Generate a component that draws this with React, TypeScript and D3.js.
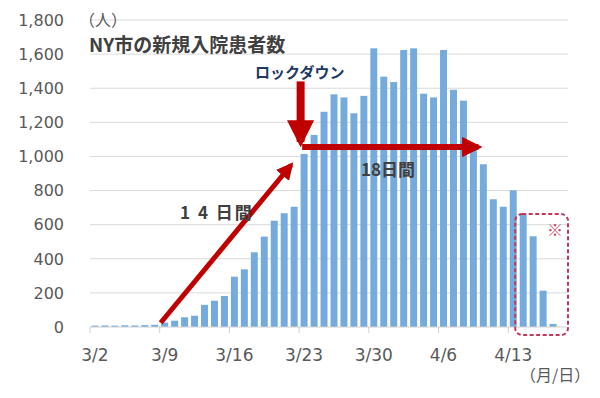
import React, { useEffect, useRef } from "react";
import * as d3 from "d3";

// 日付 (3/2 〜 4/18)
const days = [
  "3/2", "3/3", "3/4", "3/5", "3/6", "3/7", "3/8",
  "3/9", "3/10", "3/11", "3/12", "3/13", "3/14", "3/15",
  "3/16", "3/17", "3/18", "3/19", "3/20", "3/21", "3/22",
  "3/23", "3/24", "3/25", "3/26", "3/27", "3/28", "3/29",
  "3/30", "3/31", "4/1", "4/2", "4/3", "4/4", "4/5",
  "4/6", "4/7", "4/8", "4/9", "4/10", "4/11", "4/12",
  "4/13", "4/14", "4/15", "4/16", "4/17", "4/18",
];

// 新規入院患者数
const patients: (number | null)[] = [
  8, 9, 8, 10, 9, 11, 13,
  25, 37, 57, 66, 130, 154, 182,
  295, 338, 438, 530, 623, 667, 705,
  1015, 1126, 1262, 1364, 1346, 1253, 1355,
  1634, 1468, 1436, 1624, 1634, 1368, 1346,
  1624, 1391, 1327, 1065, 954, 749, 705,
  801, 657, 532, 213, 18, null,
];

const xTickLabels = ["3/2", "3/9", "3/16", "3/23", "3/30", "4/6", "4/13"];
const yTicks = [0, 200, 400, 600, 800, 1000, 1200, 1400, 1600, 1800];

const FONT = "'Noto Sans CJK JP', 'Noto Sans', sans-serif";
const NUM_FONT = "'DejaVu Sans', sans-serif";
const RED = "#c00000";

const App = () => {
  const svgRef = useRef<SVGSVGElement | null>(null);

  useEffect(() => {
    const width = 600;
    const height = 398;
    const margin = { top: 20, right: 32, bottom: 71, left: 90 };

    const svg = d3.select(svgRef.current);
    svg.selectAll("*").remove();

    const x = d3
      .scaleBand<string>()
      .domain(days)
      .range([margin.left, width - margin.right])
      .paddingInner(0.3)
      .paddingOuter(0.15);

    const y = d3
      .scaleLinear()
      .domain([0, 1800])
      .range([height - margin.bottom, margin.top]);

    const step = x.step();
    const slotLeft = (d: string) => (x(d) as number) - step * 0.15;

    // grid
    svg
      .append("g")
      .selectAll("line")
      .data(yTicks.filter((t) => t > 0))
      .join("line")
      .attr("x1", margin.left)
      .attr("x2", width - margin.right)
      .attr("y1", (d) => y(d))
      .attr("y2", (d) => y(d))
      .attr("stroke", "#d9d9d9")
      .attr("stroke-width", 1);

    // y labels
    svg
      .append("g")
      .selectAll("text")
      .data(yTicks)
      .join("text")
      .attr("x", 64)
      .attr("y", (d) => y(d))
      .attr("dy", "0.36em")
      .attr("text-anchor", "end")
      .attr("font-family", NUM_FONT)
      .attr("font-size", 16)
      .attr("fill", "#595959")
      .text((d) => d3.format(",")(d));

    // bars
    svg
      .append("g")
      .selectAll("rect")
      .data(days.map((d, i) => ({ d, v: patients[i] })).filter((e) => e.v != null))
      .join("rect")
      .attr("x", (e) => x(e.d) as number)
      .attr("width", x.bandwidth())
      .attr("y", (e) => y(e.v as number))
      .attr("height", (e) => y(0) - y(e.v as number))
      .attr("fill", "#74aadc");

    // x axis
    const axisY = y(0);
    svg
      .append("line")
      .attr("x1", margin.left)
      .attr("x2", width - margin.right)
      .attr("y1", axisY)
      .attr("y2", axisY)
      .attr("stroke", "#d0d0d0");

    const ticks = svg.append("g");
    xTickLabels.forEach((lbl) => {
      const sx = slotLeft(lbl);
      ticks
        .append("line")
        .attr("x1", sx)
        .attr("x2", sx)
        .attr("y1", axisY)
        .attr("y2", axisY + 6)
        .attr("stroke", "#d0d0d0");
      ticks
        .append("text")
        .attr("x", sx + step / 2)
        .attr("y", axisY + 34)
        .attr("text-anchor", "middle")
        .attr("font-family", NUM_FONT)
        .attr("font-size", 17)
        .attr("fill", "#595959")
        .text(lbl);
    });

    svg
      .append("text")
      .attr("x", 520)
      .attr("y", 381)
      .attr("font-family", FONT)
      .attr("font-size", 16)
      .attr("fill", "#595959")
      .text("（月/日）");

    svg
      .append("text")
      .attr("x", 79)
      .attr("y", 26)
      .attr("font-family", FONT)
      .attr("font-size", 16)
      .attr("fill", "#595959")
      .text("（人）");

    svg
      .append("text")
      .attr("x", 89)
      .attr("y", 52)
      .attr("font-family", FONT)
      .attr("font-size", 19)
      .attr("font-weight", "bold")
      .attr("fill", "#404040")
      .text("NY市の新規入院患者数");

    svg
      .append("text")
      .attr("x", 255)
      .attr("y", 78)
      .attr("font-family", FONT)
      .attr("font-size", 15)
      .attr("font-weight", "bold")
      .attr("fill", "#203864")
      .text("ロックダウン");

    // arrows
    const defs = svg.append("defs");
    defs
      .append("marker")
      .attr("id", "head")
      .attr("viewBox", "0 0 10 10")
      .attr("refX", 8)
      .attr("refY", 5)
      .attr("markerWidth", 3.4)
      .attr("markerHeight", 3.4)
      .attr("orient", "auto")
      .append("path")
      .attr("d", "M0,0 L10,5 L0,10 Z")
      .attr("fill", RED);

    const arrow = (x1: number, y1: number, x2: number, y2: number, w: number) =>
      svg
        .append("line")
        .attr("x1", x1)
        .attr("y1", y1)
        .attr("x2", x2)
        .attr("y2", y2)
        .attr("stroke", RED)
        .attr("stroke-width", w)
        .attr("marker-end", "url(#head)");

    // 14日間
    arrow(slotLeft("3/9") + 1, y(25), slotLeft("3/22") + 2, y(950), 5);
    // ロックダウン
    arrow(x("3/23") as number, y(1440), x("3/23") as number, y(1085), 8);
    // 18日間
    arrow(slotLeft("3/23") + 3, y(1055), slotLeft("4/10"), y(1055), 6);

    svg
      .append("text")
      .attr("x", 180)
      .attr("y", 219)
      .attr("font-family", FONT)
      .attr("font-size", 17)
      .attr("font-weight", "bold")
      .attr("letter-spacing", 2)
      .attr("fill", "#404040")
      .text("1 4 日間");

    svg
      .append("text")
      .attr("x", 361)
      .attr("y", 176)
      .attr("font-family", FONT)
      .attr("font-size", 17)
      .attr("font-weight", "bold")
      .attr("fill", "#404040")
      .text("18日間");

    // 暫定値の枠
    svg
      .append("rect")
      .attr("x", slotLeft("4/14") - 3)
      .attr("y", 214)
      .attr("width", width - margin.right - slotLeft("4/14") + 3)
      .attr("height", 121)
      .attr("rx", 7)
      .attr("fill", "none")
      .attr("stroke", "#c0395a")
      .attr("stroke-width", 2)
      .attr("stroke-dasharray", "4,2.5");

    svg
      .append("text")
      .attr("x", 547)
      .attr("y", 236)
      .attr("font-family", FONT)
      .attr("font-size", 16)
      .attr("fill", "#c0506c")
      .text("※");
  }, []);

  return (
    <div style={{ position: "absolute", left: 0, top: 0, width: 600, height: 398, background: "#fff" }}>
      <svg ref={svgRef} width={600} height={398} />
    </div>
  );
};

export default App;
